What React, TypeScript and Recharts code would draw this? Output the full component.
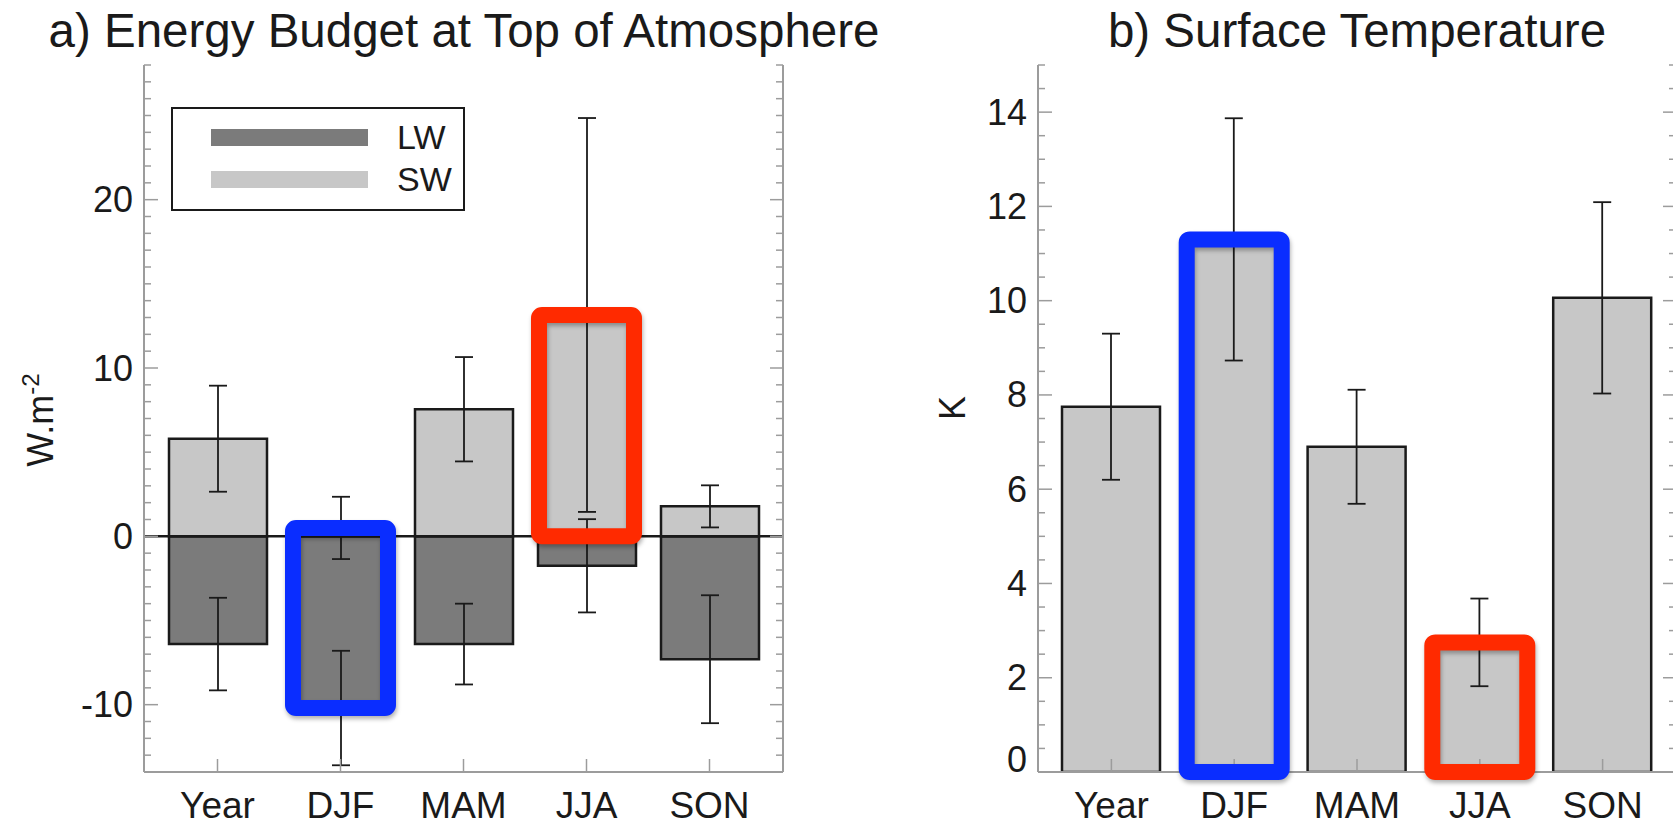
import React from "react";
import {
  BarChart,
  Bar,
  XAxis,
  YAxis,
  ErrorBar,
  ReferenceLine,
  ReferenceArea,
  Legend,
} from "recharts";

const seasons = ["Year", "DJF", "MAM", "JJA", "SON"];

// TOA energy budget change (W m-2), longwave / shortwave, with error half-widths
const lwFlux = [-6.4, -10.2, -6.4, -1.75, -7.3];
const lwFluxErr = [2.75, 3.4, 2.4, 2.77, 3.8];
const swFlux = [5.8, 0.5, 7.55, 13.15, 1.78];
const swFluxErr = [3.15, 1.85, 3.1, 11.7, 1.25];

// surface temperature change (K)
const tsChange = [7.75, 11.3, 6.9, 2.75, 10.06];
const tsChangeErr = [1.55, 2.57, 1.21, 0.93, 2.03];

const fluxDomain = [-14, 28];
const fluxMajorTicks = [-10, 0, 10, 20];
const fluxMinorStep = 1;
const tsDomain = [0, 15];
const tsMajorTicks = [0, 2, 4, 6, 8, 10, 12, 14];
const tsMinorStep = 0.5;

const BLUE = "#0a2dff";
const RED = "#ff2a00";

// seasons boxed for emphasis; span = [top series, bottom series], null means the zero line
const fluxHighlights = [
  { season: "DJF", span: ["sw", "lw"], color: BLUE },
  { season: "JJA", span: ["sw", null], color: RED },
];
const tsHighlights = [
  { season: "DJF", color: BLUE },
  { season: "JJA", color: RED },
];

const fluxData = seasons.map((season, i) => ({
  season,
  lw: lwFlux[i],
  lwErr: lwFluxErr[i],
  sw: swFlux[i],
  swErr: swFluxErr[i],
}));

const tsData = seasons.map((season, i) => ({
  season,
  ts: tsChange[i],
  tsErr: tsChangeErr[i],
}));

const steps = (lo: number, hi: number, step: number) => {
  const out: number[] = [];
  for (let v = lo; v <= hi + 1e-9; v += step) out.push(Math.round(v * 100) / 100);
  return out;
};
const fluxTicks = steps(fluxDomain[0], fluxDomain[1], fluxMinorStep);
const tsTicks = steps(tsDomain[0], tsDomain[1], tsMinorStep);

const FONT = "'Liberation Sans', Arial, Helvetica, sans-serif";
const INK = "#1a1a1a";
const FRAME = "#9c9c9c";
const LW_FILL = "#7b7b7b";
const SW_FILL = "#c7c7c7";
const BAR_W = 98;
const BOX_W = 95;
const PAD = { left: 12, right: 12 };

function LeftTick(props: any) {
  const { x, y, payload, majors, lowest } = props;
  const v = payload.value;
  const major = majors.includes(v);
  // the bottom label sits on the frame instead of straddling it
  const atBottom = v === lowest;
  return (
    <g>
      <line x1={x} y1={y} x2={x + (major ? 14 : 7)} y2={y} stroke={FRAME} strokeWidth={1.5} />
      {major && (
        <text
          x={x - 11}
          y={y}
          dy={atBottom ? 0 : 12.5}
          textAnchor="end"
          fontSize={36}
          fontFamily={FONT}
          fill={INK}
        >
          {v}
        </text>
      )}
    </g>
  );
}

function RightTick(props: any) {
  const { x, y, payload, majors } = props;
  const major = majors.includes(payload.value);
  return <line x1={x} y1={y} x2={x - (major ? 13 : 7)} y2={y} stroke={FRAME} strokeWidth={1.5} />;
}

function SeasonTick(props: any) {
  const { x, y, payload } = props;
  return (
    <g>
      <line x1={x} y1={y} x2={x} y2={y - 13} stroke={FRAME} strokeWidth={1.5} />
      <text x={x} y={y + 46} textAnchor="middle" fontSize={37} fontFamily={FONT} fill={INK}>
        {payload.value}
      </text>
    </g>
  );
}

function HighlightBox(props: any) {
  const { x, y, width, height, color } = props;
  if (x == null || y == null) return null;
  return (
    <rect
      x={x + (width - BOX_W) / 2}
      y={y}
      width={BOX_W}
      height={height}
      rx={3}
      fill="none"
      stroke={color}
      strokeWidth={16}
      style={{ filter: "drop-shadow(1px 3px 2px rgba(0,0,0,0.3))" }}
    />
  );
}

function FluxLegend(props: any) {
  const items = props.payload || [];
  return (
    <div
      style={{
        boxSizing: "border-box",
        width: 294,
        height: 104,
        border: `2.5px solid ${INK}`,
        background: "#fff",
        position: "relative",
      }}
    >
      {items.map((item: any, i: number) => (
        <div
          key={item.value}
          style={{ position: "absolute", left: 38, top: 20 + i * 42, height: 17, display: "flex", alignItems: "center" }}
        >
          <span style={{ display: "inline-block", width: 157, height: 17, background: item.color }} />
          <span style={{ marginLeft: 29, fontSize: 34, fontFamily: FONT, color: INK, lineHeight: "17px" }}>
            {item.value}
          </span>
        </div>
      ))}
    </div>
  );
}

function FluxPanel() {
  return (
    <BarChart width={860} height={825} data={fluxData} margin={{ top: 65, right: 57, bottom: 3, left: 44 }}>
      <XAxis
        dataKey="season"
        interval={0}
        height={50}
        padding={PAD}
        tickLine={false}
        tickSize={0}
        tickMargin={0}
        axisLine={{ stroke: FRAME, strokeWidth: 2 }}
        tick={(p: any) => <SeasonTick {...p} />}
      />
      <XAxis
        xAxisId="top"
        orientation="top"
        dataKey="season"
        height={0}
        padding={PAD}
        tick={false}
        tickLine={false}
        axisLine={{ stroke: FRAME, strokeWidth: 2 }}
      />
      <YAxis
        type="number"
        domain={fluxDomain}
        allowDataOverflow
        ticks={fluxTicks}
        interval={0}
        width={100}
        tickLine={false}
        tickSize={0}
        tickMargin={0}
        axisLine={{ stroke: FRAME, strokeWidth: 2 }}
        tick={(p: any) => <LeftTick {...p} majors={fluxMajorTicks} lowest={null} />}
      />
      <YAxis
        yAxisId="right"
        orientation="right"
        type="number"
        domain={fluxDomain}
        allowDataOverflow
        ticks={fluxTicks}
        interval={0}
        width={20}
        tickLine={false}
        tickSize={0}
        tickMargin={0}
        axisLine={{ stroke: FRAME, strokeWidth: 2 }}
        tick={(p: any) => <RightTick {...p} majors={fluxMajorTicks} />}
      />
      <Bar dataKey="lw" name="LW" fill={LW_FILL} stroke={INK} strokeWidth={2.5} barSize={BAR_W} isAnimationActive={false}>
        <ErrorBar dataKey="lwErr" width={9} stroke={INK} strokeWidth={1.8} direction="y" />
      </Bar>
      <Bar
        dataKey="sw"
        name="SW"
        xAxisId="top"
        fill={SW_FILL}
        stroke={INK}
        strokeWidth={2.5}
        barSize={BAR_W}
        isAnimationActive={false}
      >
        <ErrorBar dataKey="swErr" width={9} stroke={INK} strokeWidth={1.8} direction="y" />
      </Bar>
      <ReferenceLine y={0} stroke={INK} strokeWidth={2.5} />
      <Legend
        layout="vertical"
        align="center"
        verticalAlign="middle"
        wrapperStyle={{ left: 171, top: 107, width: 294, height: 104 }}
        content={(p: any) => <FluxLegend {...p} />}
      />
      {fluxHighlights.map((h) => {
        const row: any = fluxData.find((d) => d.season === h.season);
        const [top, bottom] = h.span;
        return (
          <ReferenceArea
            key={h.season}
            x1={h.season}
            x2={h.season}
            y1={top ? row[top] : 0}
            y2={bottom ? row[bottom] : 0}
            ifOverflow="visible"
            zIndex={2600}
            shape={(p: any) => <HighlightBox {...p} color={h.color} />}
          />
        );
      })}
    </BarChart>
  );
}

function TempPanel() {
  return (
    <BarChart width={860} height={825} data={tsData} margin={{ top: 65, right: 24, bottom: 3, left: 78 }}>
      <XAxis
        dataKey="season"
        interval={0}
        height={50}
        padding={PAD}
        tickLine={false}
        tickSize={0}
        tickMargin={0}
        axisLine={{ stroke: FRAME, strokeWidth: 2 }}
        tick={(p: any) => <SeasonTick {...p} />}
      />
      <XAxis
        xAxisId="top"
        orientation="top"
        dataKey="season"
        height={0}
        padding={PAD}
        tick={false}
        tickLine={false}
        axisLine={{ stroke: FRAME, strokeWidth: 2 }}
      />
      <YAxis
        type="number"
        domain={tsDomain}
        allowDataOverflow
        ticks={tsTicks}
        interval={0}
        width={100}
        tickLine={false}
        tickSize={0}
        tickMargin={0}
        axisLine={{ stroke: FRAME, strokeWidth: 2 }}
        tick={(p: any) => <LeftTick {...p} majors={tsMajorTicks} lowest={tsDomain[0]} />}
      />
      <YAxis
        yAxisId="right"
        orientation="right"
        type="number"
        domain={tsDomain}
        allowDataOverflow
        ticks={tsTicks}
        interval={0}
        width={20}
        tickLine={false}
        tickSize={0}
        tickMargin={0}
        axisLine={{ stroke: FRAME, strokeWidth: 2 }}
        tick={(p: any) => <RightTick {...p} majors={tsMajorTicks} />}
      />
      <Bar dataKey="ts" name="K" fill={SW_FILL} stroke={INK} strokeWidth={2.5} barSize={BAR_W} isAnimationActive={false}>
        <ErrorBar dataKey="tsErr" width={9} stroke={INK} strokeWidth={1.8} direction="y" />
      </Bar>
      {tsHighlights.map((h) => {
        const row = tsData.find((d) => d.season === h.season)!;
        return (
          <ReferenceArea
            key={h.season}
            x1={h.season}
            x2={h.season}
            y1={0}
            y2={row.ts}
            ifOverflow="visible"
            zIndex={2600}
            shape={(p: any) => <HighlightBox {...p} color={h.color} />}
          />
        );
      })}
    </BarChart>
  );
}

export default function App() {
  return (
    <div
      style={{
        position: "fixed",
        left: 0,
        top: 0,
        width: 1673,
        height: 825,
        overflow: "hidden",
        background: "#fff",
      }}
    >
      <div style={{ position: "absolute", left: 0, top: 0 }}>
        <FluxPanel />
      </div>
      <div style={{ position: "absolute", left: 860, top: 0 }}>
        <TempPanel />
      </div>
      <svg
        width={1673}
        height={825}
        style={{ position: "absolute", left: 0, top: 0, pointerEvents: "none" }}
        fontFamily={FONT}
        fill={INK}
      >
        <text x={464} y={47} textAnchor="middle" fontSize={47.5}>
          a) Energy Budget at Top of Atmosphere
        </text>
        <text x={1357} y={47} textAnchor="middle" fontSize={47.5}>
          b) Surface Temperature
        </text>
        <text transform="translate(53 420) rotate(-90)" textAnchor="middle" fontSize={36}>
          W.m
          <tspan fontSize={24} dy={-14}>
            -2
          </tspan>
        </text>
        <text transform="translate(965 408) rotate(-90)" textAnchor="middle" fontSize={36}>
          K
        </text>
      </svg>
    </div>
  );
}
